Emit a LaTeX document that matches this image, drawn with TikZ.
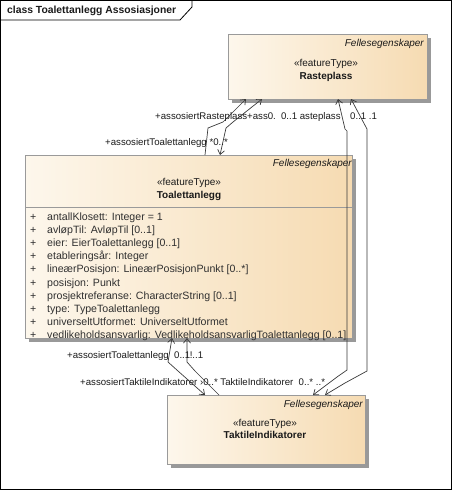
\documentclass[tikz,border=0pt]{standalone}
\usepackage{fontspec}
\setmainfont{Liberation Sans}
\usetikzlibrary{arrows.meta,shadows}
\definecolor{boxl}{HTML}{FDF7EC}
\definecolor{boxr}{HTML}{F6DBB2}
\definecolor{edgec}{HTML}{9A9A9A}
\definecolor{linec}{HTML}{3A3A3A}
\definecolor{txt}{HTML}{1A1A1A}
\definecolor{attc}{HTML}{303030}
\begin{document}
\begin{tikzpicture}[x=1pt,y=-1pt,font=\fontsize{10}{12}\selectfont,
  cls/.style={draw=edgec, line width=0.8pt, left color=boxl, right color=boxr,
    inner sep=0pt, outer sep=0pt,
    drop shadow={shadow xshift=4pt,shadow yshift=-4pt,fill=black!40,opacity=1}},
  lbl/.style={inner sep=0pt, anchor=west, text=txt, text height=7.5pt, text depth=2pt, font=\fontsize{9.65}{12}\selectfont},
  ctr/.style={inner sep=0pt, text=txt, text height=7.5pt, text depth=2pt},
  pkg/.style={inner sep=0pt, anchor=east, text=txt, text height=7.5pt, text depth=2pt, font=\fontsize{10}{12}\selectfont\itshape},
  att/.style={inner sep=0pt, anchor=west, text=attc, text height=7.5pt, text depth=2pt, font=\fontsize{10.6}{12}\selectfont},
  assoc/.style={draw=linec, line width=0.7pt},
  tip/.tip={Straight Barb[length=4.5pt,width=7pt]}]
\useasboundingbox (0,0) rectangle (452,490);
% frame
\draw[black, line width=0.8pt] (0.5,0.5) rectangle (451.5,489.5);
\draw[black, line width=0.8pt] (0.5,20) -- (180,20) -- (192,7) -- (192,0.5);
\node[lbl, font=\fontsize{10.35}{12}\selectfont\bfseries] (title) at (7,11) {class Toalettanlegg Assosiasjoner};

% classes
\node[cls, minimum width=199pt, minimum height=65pt] (R) at (327.5,66.5) {};
\node[cls, minimum width=327pt, minimum height=183pt] (T) at (188.5,246.5) {};
\node[cls, minimum width=198pt, minimum height=69pt] (K) at (266,429.5) {};
\draw[edgec, line width=0.8pt] (T.west |- 0,207) -- (T.east |- 0,207);

% Rasteplass texts
\node[pkg] (Rp) at (424,44) {Fellesegenskaper};
\node[ctr] (Rs) at (326,64) {«featureType»};
\node[ctr, font=\fontsize{10}{12}\selectfont\bfseries] (Rn) at (326,77) {Rasteplass};

% Toalettanlegg texts
\node[pkg] (Tp) at (352,164) {Fellesegenskaper};
\node[ctr] (Ts) at (189,183) {«featureType»};
\node[ctr, font=\fontsize{10}{12}\selectfont\bfseries] (Tn) at (189,196) {Toalettanlegg};
\foreach \i/\t in {0/{antallKlosett: Integer = 1},
  1/{avløpTil: AvløpTil [0..1]},
  2/{eier: EierToalettanlegg [0..1]},
  3/{etableringsår: Integer},
  4/{lineærPosisjon: LineærPosisjonPunkt [0..*]},
  5/{posisjon: Punkt},
  6/{prosjektreferanse: CharacterString [0..1]},
  7/{type: TypeToalettanlegg},
  8/{universeltUtformet: UniverseltUtformet},
  9/{vedlikeholdsansvarlig: VedlikeholdsansvarligToalettanlegg [0..1]}} {
  \node[att] (p\i) at (30,218+13.05*\i) {+};
  \node[att] (a\i) at (47,218+13.05*\i) {\t};
}

% TaktileIndikatorer texts
\node[pkg] (Kp) at (363,405) {Fellesegenskaper};
\node[ctr] (Ks) at (265,424) {«featureType»};
\node[ctr, font=\fontsize{10}{12}\selectfont\bfseries] (Kn) at (265,436) {TaktileIndikatorer};

% associations Rasteplass - Toalettanlegg
\draw[assoc, tip-] (246,0 |- R.south) -- (223,122) -- (208,128) -- (205,0 |- T.north);
\draw[assoc, tip-tip] (262,0 |- R.south) -- (233,122) -- (226,128) -- (220,0 |- T.north);
% associations Rasteplass - TaktileIndikatorer
\draw[assoc, tip-tip] (338,0 |- R.south) -- (345,129) -- (347,131) -- (347,370) -- (337,377) -- (313,0 |- K.north);
\draw[assoc, tip-tip] (351,0 |- R.south) -- (367,129) -- (367,371) -- (345,383) -- (325,0 |- K.north);
% associations Toalettanlegg - TaktileIndikatorer
\draw[assoc, tip-tip] (172,0 |- T.south) -- (168,362) -- (178,371) -- (205,0 |- K.north);
\draw[assoc, tip-] (187,0 |- T.south) -- (187,362) -- (195,371) -- (219,0 |- K.north);

% labels
\node[lbl] (l1) at (155,117) {+assosiertRasteplass+ass0.\, 0..1 asteplass};
\node[lbl] (l2) at (350,117) {0..1 .1};
\node[lbl] (l3) at (105,143) {+assosiertToalettanlegg *0..*};
\node[lbl] (l4) at (67,356) {+assosiertToalettanlegg\ \ 0..1\kern-0.5pt!..1};
\node[lbl] (l5) at (80,383) {+assosiertTaktileIndikatorer ›0..* TaktileIndikatorer\ \ 0..*\ ..*};
\end{tikzpicture}
\end{document}
